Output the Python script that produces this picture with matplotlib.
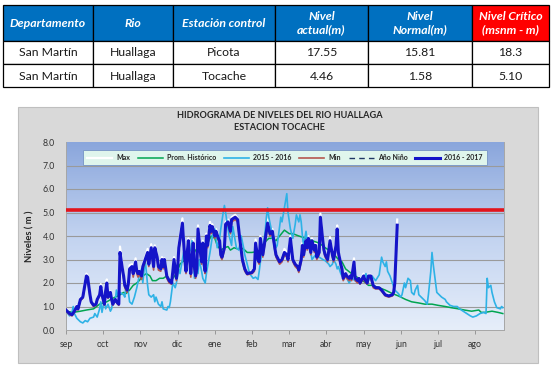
import numpy as np
import matplotlib
matplotlib.use("Agg")
import matplotlib.pyplot as plt
from matplotlib.patches import Rectangle

plt.rcParams["font.family"] = ["Lato", "DejaVu Sans"]

W, H = 552, 367

# ── table data ───────────────────────────────────────────────────────────
headers = ["Departamento", "Rio", "Estación control", "Nivel\nactual(m)",
           "Nivel\nNormal(m)", "Nivel Crítico\n(msnm - m)"]
rows = [
    ["San Martín", "Huallaga", "Picota", "17.55", "15.81", "18.3"],
    ["San Martín", "Huallaga", "Tocache", "4.46", "1.58", "5.10"],
]

# ── chart data (day 0 = 1 sep) ───────────────────────────────────────────
meses = ["sep", "oct", "nov", "dic", "ene", "feb", "mar", "abr", "may",
         "jun", "jul", "ago"]
nivel_critico = 5.1

dias_1617 = [
    0, 3, 5, 7, 9, 10, 12, 14, 17, 18,
    20, 21, 23, 25, 26, 28, 29, 30, 32, 33,
    34, 35, 37, 38, 39, 41, 43, 44, 45, 47,
    48, 49, 51, 52, 53, 55, 56, 58, 59, 60,
    61, 63, 64, 66, 68, 69, 71, 72, 73, 74,
    76, 77, 79, 80, 81, 82, 84, 85, 86, 88,
    89, 90, 91, 92, 93, 94, 96, 97, 98, 99,
    100, 101, 102, 103, 104, 106, 107, 108, 109, 110,
    112, 113, 114, 115, 116, 117, 118, 120, 121, 122,
    124, 125, 127, 128, 129, 130, 132, 133, 135, 137,
    138, 141, 143, 145, 147, 149, 151, 155, 157, 158,
    160, 161, 162, 164, 168, 170, 172, 174, 175, 178,
    180, 182, 184, 185, 187, 189, 191, 193, 194, 196,
    197, 198, 200, 201, 202, 204, 205, 207, 208, 209,
    211, 212, 214, 215, 216, 218, 219, 220, 222, 223,
    225, 226, 227, 229, 230, 231, 233, 234, 236, 237,
    238, 240, 241, 243, 244, 245, 247, 248, 249, 251,
    252, 254, 255, 256, 258, 261, 263, 266, 269, 272,
    273, 274, 276,
]
nivel_1617 = [
    0.85, 0.70, 0.65, 0.80, 1.00, 0.90, 1.30, 1.40, 2.30, 2.25,
    1.50, 1.20, 1.05, 1.10, 1.30, 1.50, 1.85, 1.50, 1.10, 1.65,
    2.00, 1.40, 1.60, 1.30, 1.10, 1.30, 1.15, 1.10, 3.30, 2.60,
    2.30, 1.90, 1.70, 2.00, 2.60, 2.70, 2.40, 2.90, 2.50, 2.40,
    2.50, 2.30, 2.70, 3.00, 3.30, 2.80, 3.50, 3.10, 2.70, 3.50,
    3.10, 2.70, 2.60, 3.00, 2.70, 3.00, 2.30, 2.20, 2.10, 2.00,
    2.50, 3.00, 2.60, 2.20, 2.60, 3.50, 4.20, 4.55, 3.80, 3.00,
    2.50, 3.30, 3.80, 3.00, 2.40, 3.70, 2.70, 2.30, 2.60, 4.30,
    3.30, 2.90, 3.70, 2.80, 2.50, 4.00, 3.60, 4.45, 4.20, 4.40,
    4.00, 4.20, 3.90, 3.80, 3.20, 3.10, 3.50, 4.50, 4.60, 4.20,
    4.70, 4.80, 4.70, 3.80, 3.00, 2.60, 2.40, 2.45, 2.60, 3.70,
    3.00, 2.90, 3.90, 3.20, 4.55, 4.10, 4.20, 3.50, 3.20, 2.90,
    3.00, 3.30, 3.20, 3.00, 3.90, 3.00, 2.80, 2.70, 2.55, 3.00,
    3.60, 3.20, 3.80, 3.50, 3.90, 3.30, 3.80, 3.40, 3.60, 3.10,
    3.30, 4.80, 3.80, 3.40, 3.20, 3.00, 3.40, 3.80, 3.20, 3.00,
    3.60, 4.30, 3.30, 2.80, 2.60, 2.20, 2.40, 2.30, 2.20, 2.30,
    2.20, 2.90, 2.20, 2.10, 2.20, 2.00, 2.20, 2.30, 2.15, 2.00,
    2.30, 2.30, 2.10, 1.90, 1.80, 1.80, 1.70, 1.50, 1.45, 1.50,
    1.60, 2.00, 4.46,
]
max_1617 = [
    0.90, 0.75, 0.70, 0.85, 1.05, 0.95, 1.35, 1.45, 2.40, 2.30,
    1.55, 1.25, 1.10, 1.15, 1.35, 1.55, 1.95, 1.55, 1.15, 1.75,
    2.15, 1.45, 1.65, 1.35, 1.15, 1.35, 1.20, 1.15, 3.55, 2.70,
    2.35, 1.95, 1.75, 2.10, 2.75, 2.80, 2.45, 3.05, 2.55, 2.45,
    2.55, 2.35, 2.80, 3.10, 3.45, 2.85, 3.65, 3.15, 2.75, 3.60,
    3.15, 2.75, 2.65, 3.10, 2.75, 3.05, 2.35, 2.25, 2.15, 2.05,
    2.60, 3.10, 2.65, 2.25, 2.70, 3.65, 4.40, 4.75, 3.90, 3.05,
    2.55, 3.40, 3.90, 3.05, 2.45, 3.85, 2.75, 2.35, 2.70, 4.45,
    3.35, 2.95, 3.80, 2.85, 2.55, 4.10, 3.65, 4.60, 4.30, 4.50,
    4.05, 4.30, 3.95, 3.85, 3.25, 3.15, 3.60, 4.60, 4.70, 4.25,
    4.80, 4.90, 4.75, 3.85, 3.05, 2.65, 2.45, 2.50, 2.65, 3.85,
    3.05, 2.95, 4.00, 3.25, 4.70, 4.20, 4.30, 3.55, 3.25, 2.95,
    3.05, 3.45, 3.30, 3.05, 4.00, 3.05, 2.85, 2.75, 2.60, 3.05,
    3.70, 3.25, 3.95, 3.55, 4.00, 3.35, 3.90, 3.45, 3.70, 3.15,
    3.35, 4.95, 3.85, 3.45, 3.25, 3.05, 3.50, 3.95, 3.25, 3.05,
    3.70, 4.45, 3.35, 2.85, 2.65, 2.25, 2.45, 2.35, 2.25, 2.35,
    2.25, 3.05, 2.25, 2.15, 2.25, 2.05, 2.25, 2.40, 2.20, 2.05,
    2.35, 2.35, 2.15, 1.95, 1.85, 1.85, 1.75, 1.55, 1.50, 1.55,
    1.65, 2.10, 4.70,
]
min_1617 = [
    0.80, 0.65, 0.60, 0.75, 0.95, 0.85, 1.25, 1.35, 2.20, 2.15,
    1.45, 1.15, 1.00, 1.05, 1.25, 1.45, 1.75, 1.45, 1.05, 1.55,
    1.90, 1.35, 1.55, 1.25, 1.05, 1.25, 1.10, 1.05, 3.10, 2.50,
    2.20, 1.80, 1.60, 1.90, 2.50, 2.60, 2.25, 2.80, 2.40, 2.25,
    2.40, 2.15, 2.60, 2.90, 3.20, 2.70, 3.40, 3.00, 2.55, 3.40,
    3.00, 2.55, 2.50, 2.90, 2.60, 2.90, 2.20, 2.10, 2.00, 1.95,
    2.40, 2.90, 2.50, 2.10, 2.50, 3.40, 4.10, 4.40, 3.70, 2.90,
    2.40, 3.20, 3.70, 2.90, 2.25, 3.60, 2.60, 2.20, 2.50, 4.20,
    3.20, 2.80, 3.60, 2.70, 2.40, 3.90, 3.50, 4.35, 4.10, 4.30,
    3.90, 4.10, 3.80, 3.70, 3.10, 3.00, 3.40, 4.40, 4.50, 4.10,
    4.60, 4.70, 4.60, 3.70, 2.90, 2.50, 2.35, 2.40, 2.50, 3.60,
    2.90, 2.80, 3.80, 3.10, 4.40, 4.00, 4.10, 3.40, 3.10, 2.80,
    2.90, 3.20, 3.10, 2.90, 3.80, 2.90, 2.70, 2.60, 2.45, 2.90,
    3.50, 3.10, 3.70, 3.40, 3.80, 3.20, 3.70, 3.30, 3.50, 3.00,
    3.20, 4.70, 3.70, 3.30, 3.10, 2.90, 3.30, 3.70, 3.10, 2.90,
    3.50, 4.20, 3.20, 2.70, 2.50, 2.10, 2.30, 2.20, 2.10, 2.20,
    2.10, 2.80, 2.10, 2.00, 2.10, 1.95, 2.10, 2.20, 2.05, 1.95,
    2.20, 2.20, 2.00, 1.80, 1.75, 1.75, 1.65, 1.45, 1.40, 1.45,
    1.55, 1.90, 4.30,
]

dias_prom = [
    0, 6, 12, 17, 23, 28, 34, 39, 45, 48, 50, 53, 56, 59, 61, 64, 67, 70,
    72, 75, 78, 81, 84, 86, 89, 92, 95, 97, 100, 103, 106, 108, 111, 114,
    117, 121, 124, 126, 129, 132, 135, 137, 140, 143, 146, 149, 151, 155,
    160, 162, 165, 169, 172, 175, 178, 182, 186, 189, 194, 200, 205, 211,
    216, 222, 227, 230, 233, 238, 244, 250, 252, 255, 261, 266, 272, 277,
    283, 288, 294, 299, 305, 310, 316, 321, 327, 332, 338, 344, 346, 349,
    355, 360, 364,
]
prom_historico = [
    0.80, 0.75, 0.80, 0.85, 0.90, 1.10, 1.20, 1.35, 1.50, 1.60, 1.55, 1.70,
    1.90, 2.00, 2.10, 2.30, 2.40, 2.30, 2.10, 2.10, 2.20, 2.20, 2.30, 2.10,
    2.20, 2.40, 2.80, 2.90, 3.00, 3.20, 3.20, 3.40, 3.50, 3.50, 3.60, 4.00,
    3.90, 3.60, 3.40, 3.50, 3.55, 3.40, 3.50, 3.45, 3.50, 3.40, 3.30, 3.30,
    3.35, 3.40, 3.70, 3.90, 3.90, 3.80, 4.00, 4.25, 4.10, 4.10, 4.00, 3.90,
    3.80, 3.70, 3.50, 3.30, 3.00, 2.90, 2.60, 2.40, 2.20, 2.00, 1.90, 1.90,
    1.80, 1.70, 1.55, 1.45, 1.30, 1.20, 1.15, 1.10, 1.10, 1.05, 1.00, 0.95,
    0.90, 0.85, 0.80, 0.85, 0.75, 0.75, 0.80, 0.75, 0.70,
]

dias_1516 = [
    0, 3, 5, 6, 7, 9, 12, 14, 16, 18, 20, 23, 24, 26, 28, 29, 30, 32, 33,
    35, 37, 38, 39, 41, 42, 43, 45, 48, 49, 50, 52, 53, 55, 57, 59, 61, 63,
    64, 66, 68, 69, 71, 73, 74, 75, 77, 79, 80, 81, 84, 85, 86, 87, 89, 91,
    92, 94, 95, 97, 98, 100, 101, 102, 104, 105, 106, 107, 108, 110, 111,
    113, 114, 116, 117, 118, 120, 122, 124, 125, 126, 128, 129, 131, 132,
    133, 135, 136, 138, 139, 142, 144, 146, 148, 149, 151, 153, 156, 158,
    160, 161, 162, 164, 166, 167, 168, 169, 171, 172, 173, 175, 176, 178,
    179, 180, 182, 183, 184, 185, 187, 188, 189, 191, 192, 194, 195, 196,
    197, 198, 200, 201, 203, 204, 205, 208, 211, 214, 216, 219, 220, 222,
    223, 225, 226, 227, 229, 230, 232, 233, 236, 238, 241, 244, 247, 250,
    251, 252, 255, 258, 261, 263, 264, 266, 267, 268, 270, 272, 274, 276,
    277, 279, 280, 282, 283, 285, 287, 288, 290, 291, 293, 294, 296, 299,
    301, 302, 304, 305, 306, 308, 309, 311, 313, 316, 317, 320, 323, 326,
    328, 331, 334, 337, 339, 342, 345, 348, 350, 351, 352, 354, 355, 357,
    359, 362, 363, 364,
]
nivel_1516 = [
    0.80, 0.60, 0.75, 1.00, 0.70, 0.50, 0.35, 0.30, 0.40, 0.35, 0.50, 0.55,
    0.70, 0.55, 0.90, 1.20, 0.75, 1.30, 0.90, 1.10, 0.80, 0.90, 1.30, 1.20,
    1.70, 1.50, 1.60, 1.50, 1.40, 1.90, 1.60, 1.20, 1.10, 1.40, 1.80, 2.30,
    2.60, 2.00, 3.00, 1.90, 1.50, 1.40, 1.50, 1.20, 1.40, 1.10, 1.00, 1.20,
    0.90, 0.85, 1.00, 0.95, 1.20, 2.00, 1.80, 2.00, 2.60, 2.40, 3.00, 3.30,
    2.50, 3.00, 3.30, 3.40, 3.80, 3.00, 2.20, 2.80, 2.40, 3.00, 2.50, 2.20,
    2.00, 2.40, 2.70, 3.30, 4.00, 4.30, 4.00, 3.50, 3.90, 4.30, 5.00, 5.30,
    5.00, 4.30, 4.00, 3.60, 4.40, 3.50, 3.40, 4.00, 3.50, 3.20, 2.80, 2.40,
    2.20, 2.25, 2.15, 2.50, 2.90, 3.40, 4.20, 4.80, 5.20, 4.80, 4.30, 3.90,
    4.00, 3.50, 3.60, 4.40, 4.80, 4.60, 5.20, 5.50, 5.80, 5.00, 4.30, 4.10,
    3.90, 4.50, 4.90, 4.60, 4.90, 4.60, 4.00, 3.60, 4.20, 3.80, 3.50, 3.30,
    3.00, 3.20, 3.10, 3.00, 2.95, 2.80, 2.70, 2.80, 3.00, 2.80, 2.60, 2.70,
    2.40, 2.30, 2.25, 2.30, 2.00, 2.20, 2.10, 2.10, 2.15, 2.40, 2.00, 2.10,
    2.30, 2.10, 2.35, 3.10, 2.90, 2.70, 2.90, 2.50, 2.30, 2.00, 1.70, 1.60,
    1.55, 1.40, 1.50, 2.00, 1.80, 2.20, 2.10, 1.60, 1.50, 1.70, 1.90, 1.50,
    1.40, 1.25, 1.10, 1.50, 2.50, 3.30, 2.80, 2.00, 1.60, 1.50, 1.40, 1.30,
    1.20, 1.05, 1.00, 1.00, 0.90, 0.80, 0.70, 0.60, 0.55, 0.60, 0.70, 0.75,
    0.70, 2.20, 1.80, 1.90, 1.60, 1.20, 0.95, 0.90, 1.00, 0.95,
]

# ── figure ───────────────────────────────────────────────────────────────
fig = plt.figure(figsize=(W / 100, H / 100), dpi=100)
fig.patch.set_facecolor("white")

bg = fig.add_axes([0, 0, 1, 1])
bg.set_xlim(0, W)
bg.set_ylim(H, 0)
bg.axis("off")

# table
col_x = [3, 93, 173, 275, 368, 472, 549]
row_y = [5, 41, 64, 87]
for i, head in enumerate(headers):
    x0, x1 = col_x[i], col_x[i + 1]
    fc = "#ff0000" if i == len(headers) - 1 else "#0070c0"
    bg.add_patch(Rectangle((x0, row_y[0]), x1 - x0, row_y[1] - row_y[0],
                           fc=fc, ec="black", lw=0.9))
    bg.text((x0 + x1) / 2, (row_y[0] + row_y[1]) / 2 + 0.5, head,
            ha="center", va="center", color="white", fontsize=8.8,
            fontweight="bold", fontstyle="italic", linespacing=1.25)
for r, row in enumerate(rows):
    y0, y1 = row_y[r + 1], row_y[r + 2]
    for i, val in enumerate(row):
        x0, x1 = col_x[i], col_x[i + 1]
        bg.add_patch(Rectangle((x0, y0), x1 - x0, y1 - y0,
                               fc="white", ec="black", lw=0.9))
        bg.text((x0 + x1) / 2, (y0 + y1) / 2 + 0.5, val, ha="center",
                va="center", color="#1a1a1a", fontsize=8.8)

# chart frame
bg.add_patch(Rectangle((18, 107), 520, 256, fc="#d9d9d9", ec="#bfbfbf",
                       lw=0.8))
bg.text(280, 115, "HIDROGRAMA DE NIVELES DEL RIO HUALLAGA", ha="center",
        va="center", fontsize=6.6, fontweight="bold", color="#262626")
bg.text(280, 128, "ESTACION TOCACHE", ha="center", va="center",
        fontsize=6.6, fontweight="bold", color="#262626")

# plot area
px0, px1, py0, py1 = 66, 504, 142, 330
ax = fig.add_axes([px0 / W, 1 - py1 / H, (px1 - px0) / W, (py1 - py0) / H])
x_end = 365
grad = np.linspace(0, 1, 256).reshape(-1, 1)
cmap = matplotlib.colors.LinearSegmentedColormap.from_list(
    "fondo", ["#e6eefa", "#c2d3f0", "#8aa6dc"])
ax.imshow(grad, aspect="auto", cmap=cmap, origin="lower",
          extent=[0, x_end, 0, 8], zorder=0)

for y in range(1, 8):
    ax.axhline(y, color="#9a9a9a", lw=0.8, zorder=1)

ax.plot(dias_1617, max_1617, color="white", lw=1.6, zorder=2, label="Max")
ax.plot(dias_prom, prom_historico, color="#00a550", lw=1.1, zorder=3,
        label="Prom. Histórico")
ax.plot(dias_1516, nivel_1516, color="#2eb2e6", lw=1.2, zorder=4,
        label="2015 - 2016")
ax.plot(dias_1617, min_1617, color="#b5574f", lw=1.2, zorder=5, label="Min")
ax.plot([], [], color="#1f3864", lw=1.0, ls=(0, (4, 3)), label="Año Niño")
ax.plot(dias_1617, nivel_1617, color="#1414c8", lw=2.2, zorder=6,
        label="2016 - 2017")
ax.axhline(nivel_critico, color="#e2141c", lw=2.6, zorder=7)

ax.set_xlim(0, x_end)
ax.set_ylim(0, 8)
ax.set_yticks(np.arange(0, 8.1, 1))
ax.set_yticklabels([f"{v:.1f}" for v in np.arange(0, 8.1, 1)])
ax.set_xticks([i * 31 for i in range(len(meses))])
ax.set_xticklabels(meses)
ax.tick_params(axis="y", length=0, pad=8, labelsize=6.3, colors="#333333")
ax.tick_params(axis="x", length=3, width=0.6, color="#8c8c8c", pad=4,
               labelsize=6.3, labelcolor="#333333", direction="out")
for s in ax.spines.values():
    s.set_color("#a6a6a6")
    s.set_linewidth(0.7)
ax.spines["top"].set_visible(False)
ax.set_ylabel("Niveles ( m )", fontsize=6.8, fontweight="bold",
              color="#262626", labelpad=6)

leg = ax.legend(loc="upper left", bbox_to_anchor=(0.032, 0.975, 0.936, 0),
                mode="expand", ncol=6, fontsize=5.0, frameon=True,
                handlelength=3.6, handletextpad=0.6, borderpad=0.55,
                fancybox=False)
leg.get_frame().set_facecolor("#dff5ec")
leg.get_frame().set_edgecolor("#7f9cc9")
leg.get_frame().set_linewidth(0.7)
leg.get_frame().set_alpha(1)
for t in leg.get_texts():
    t.set_fontweight("bold")
    t.set_color("#262626")

fig.savefig("out.png", dpi=100, facecolor="white")
